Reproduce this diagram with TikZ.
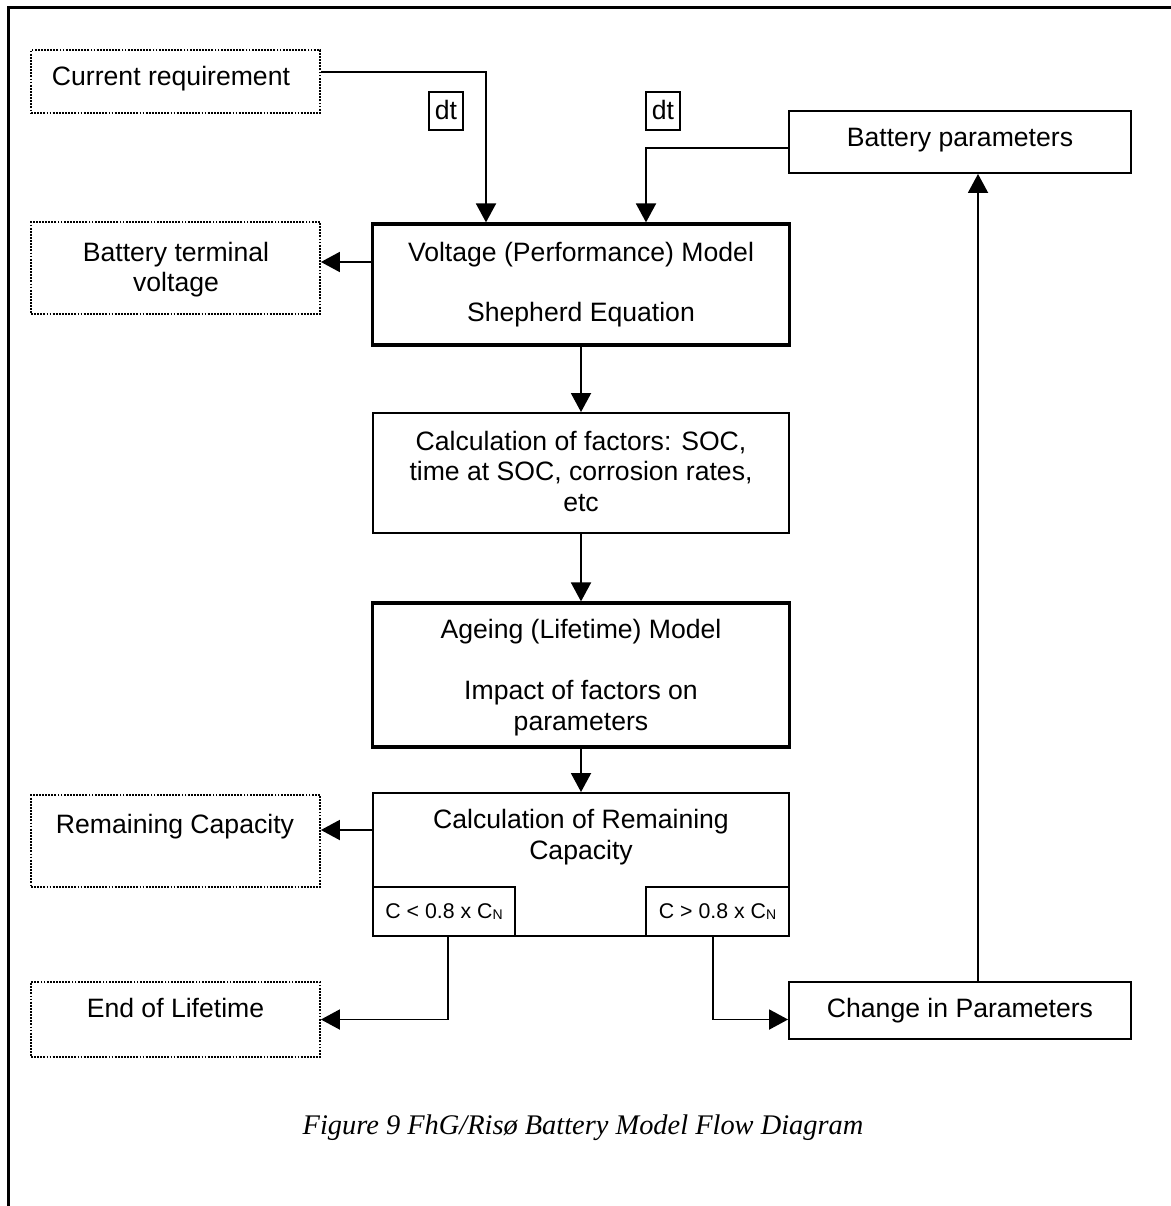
\documentclass[tikz,border=0pt]{standalone}
\usepackage{fontspec}
\setmainfont{Liberation Sans}
\newfontfamily\capfont{Liberation Serif}
\usetikzlibrary{arrows.meta}
\begin{document}
\begin{tikzpicture}[x=1pt,y=-1pt,
  plainbox/.style={draw, rectangle, line width=1.9pt, inner sep=0pt},
  thickbox/.style={draw, rectangle, line width=3.2pt, inner sep=0pt},
  dotbox/.style={draw, rectangle, line width=1.8pt, dash pattern=on 1.8pt off 1.3pt, inner sep=0pt},
  lbl/.style={anchor=base, inner sep=0pt, font=\fontsize{26.6}{30.5}\selectfont},
  sml/.style={anchor=base, inner sep=0pt, font=\fontsize{21.3}{24}\selectfont},
  captxt/.style={anchor=base, inner sep=0pt, font=\fontsize{28.4}{32}\selectfont\capfont\itshape},
  arr/.style={line width=1.9pt, -{Triangle[length=19pt,width=20pt]}}]
\useasboundingbox (0,0) rectangle (1170,1206);
% page frame
\draw[line width=3pt] (8,1210) -- (8,7.5) -- (1172,7.5);

% boxes
\node[dotbox, minimum width=289pt, minimum height=63pt] (cur) at (175.5,81.5) {};
\node[dotbox, minimum width=289pt, minimum height=92pt] (btv) at (175.5,268) {};
\node[dotbox, minimum width=289pt, minimum height=92pt] (remcap) at (175.5,841) {};
\node[dotbox, minimum width=289pt, minimum height=75pt] (eol) at (175.5,1019.5) {};

\node[plainbox, minimum width=34pt, minimum height=38pt] (dta) at (446,111) {};
\node[plainbox, minimum width=34pt, minimum height=38pt] (dtb) at (663,111) {};

\node[plainbox, minimum width=342pt, minimum height=62pt] (bp) at (960,142) {};
\node[plainbox, minimum width=342pt, minimum height=57pt] (chg) at (960,1010.5) {};

\node[thickbox, minimum width=417pt, minimum height=121pt] (volt) at (581,284.5) {};
\node[plainbox, minimum width=416pt, minimum height=120pt] (calc) at (581,473) {};
\node[thickbox, minimum width=417pt, minimum height=144pt] (age) at (581,675) {};
\node[plainbox, minimum width=416pt, minimum height=143pt] (rem) at (581,864.5) {};
\node[plainbox, minimum width=142pt, minimum height=49pt] (clt) at (444,911.5) {};
\node[plainbox, minimum width=143pt, minimum height=49pt] (cgt) at (717.5,911.5) {};

% texts
\node[lbl] (tcur) at (171,86) {Current requirement};
\node[lbl] (tbtv1) at (176,261) {Battery terminal};
\node[lbl] (tbtv2) at (176,291) {voltage};
\node[lbl] (trc) at (175,833) {Remaining Capacity};
\node[lbl] (teol) at (175.5,1017) {End of Lifetime};
\node[lbl] (tdta) at (446,120) {dt};
\node[lbl] (tdtb) at (663,120) {dt};
\node[lbl] (tbp) at (960,147) {Battery parameters};
\node[lbl] (tchg) at (960,1017) {Change in Parameters};
\node[lbl] (tv1) at (581,261) {Voltage (Performance) Model};
\node[lbl] (tv2) at (581,321) {Shepherd Equation};
\node[lbl] (tc1) at (581,450) {Calculation of factors: SOC,};
\node[lbl] (tc2) at (581,480.5) {time at SOC, corrosion rates,};
\node[lbl] (tc3) at (581,511) {etc};
\node[lbl] (ta1) at (581,638) {Ageing (Lifetime) Model};
\node[lbl] (ta2) at (581,699) {Impact of factors on};
\node[lbl] (ta3) at (581,730) {parameters};
\node[lbl] (tr1) at (581,828) {Calculation of Remaining};
\node[lbl] (tr2) at (581,859) {Capacity};
\node[sml] (tclt) at (444,918) {C < 0.8 x C\raisebox{-1.5pt}{\fontsize{14}{16}\selectfont N}};
\node[sml] (tcgt) at (717.5,918) {C > 0.8 x C\raisebox{-1.5pt}{\fontsize{14}{16}\selectfont N}};
\node[captxt] (tcap) at (583,1134) {Figure 9 FhG/Risø Battery Model Flow Diagram};

% connectors
\draw[arr] ([yshift=9.5pt]cur.east) -| ([xshift=-95pt]volt.north);
\draw[arr] ([yshift=-6pt]bp.west) -| ([xshift=65pt]volt.north);
\draw[arr] ([yshift=22.5pt]volt.west) coordinate (va) -- (va -| btv.east);
\draw[arr] (volt.south) -- (calc.north);
\draw[arr] (calc.south) -- (age.north);
\draw[arr] (age.south) -- (rem.north);
\draw[arr] ([yshift=34.5pt]rem.west) coordinate (ra) -- (ra -| remcap.east);
\draw[arr] ([xshift=4pt]clt.south) |- (eol.east);
\draw[arr] ([xshift=-4.5pt]cgt.south) |- (chg.west |- eol.east);
\draw[arr] ([xshift=18pt]chg.north) -- ([xshift=18pt]bp.south);
\end{tikzpicture}
\end{document}
